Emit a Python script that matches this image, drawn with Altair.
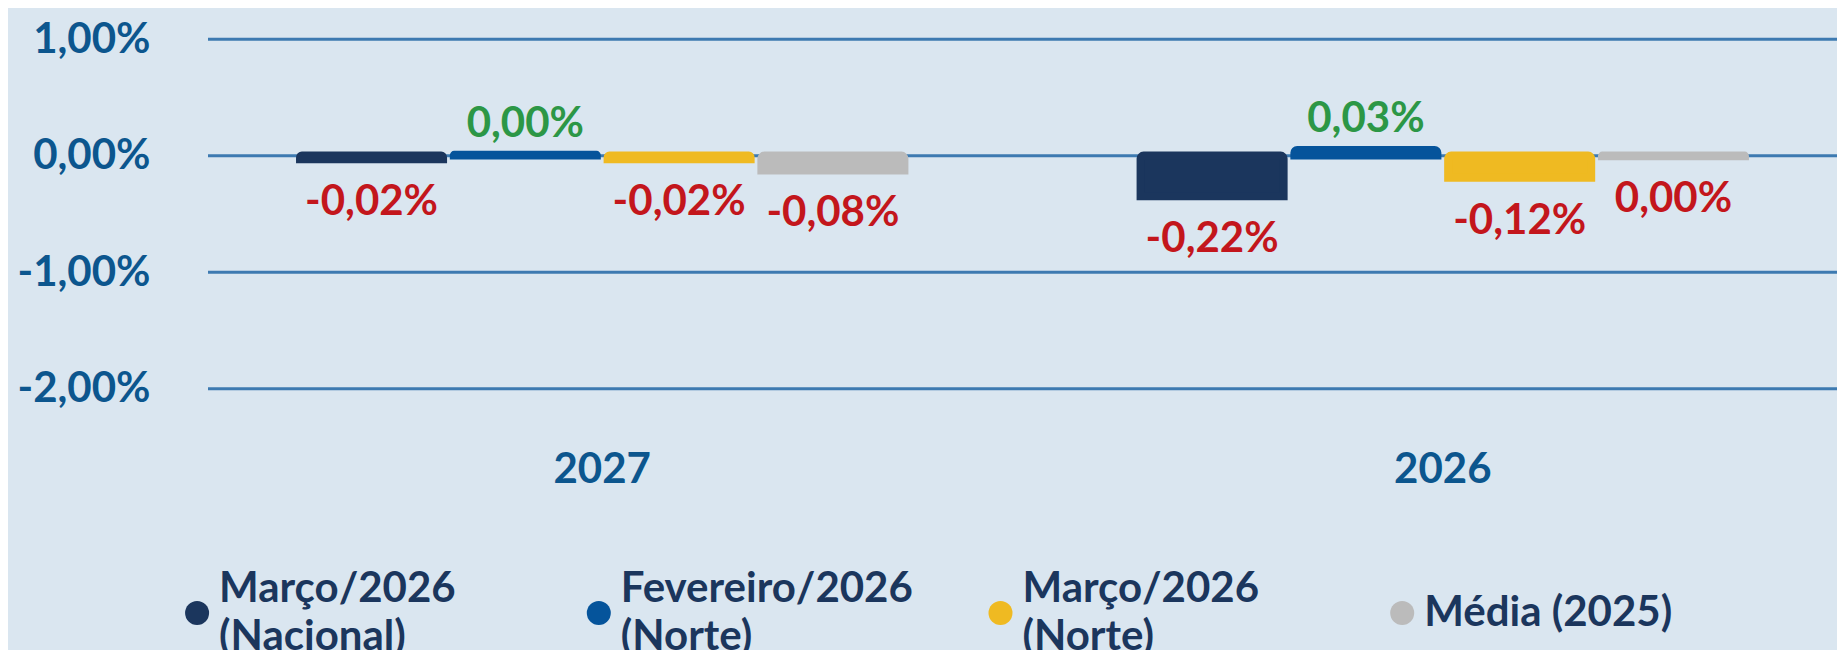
import altair as alt
import pandas as pd

# ---- data ----
years = ["2027", "2026"]
series = [
    "Março/2026\n(Nacional)",
    "Fevereiro/2026\n(Norte)",
    "Março/2026\n(Norte)",
    "Média (2025)",
]
series_colors = ["#1B365D", "#05549B", "#EFBA22", "#BBBBBB"]
values_2027 = [-0.02, 0.004, -0.02, -0.08]
values_2026 = [-0.22, 0.03, -0.12, -0.004]
grid_values = [1.0, 0.0, -1.0, -2.0]

rows = []
for ano, vals in zip(years, [values_2027, values_2026]):
    for s, v in zip(series, vals):
        rows.append({"ano": ano, "serie": s, "valor": v})
df = pd.DataFrame(rows)
grid_df = pd.DataFrame({"v": grid_values})
legend_df = pd.DataFrame({"serie": series})

FONT = "Lato"
FS = 42
AXIS_COLOR = "#0C568E"
LEGEND_TEXT = "#1B365D"
label_expr = "replace(replace(format(datum.valor, '.2f'), '\u2212', '-'), '.', ',') + '%'"
color_scale = alt.Scale(domain=series, range=series_colors)

# ---- gridlines + y axis labels ----
grid = alt.Chart(grid_df).mark_rule(color="#3D7AB1", strokeWidth=3).encode(
    y=alt.Y(
        "v:Q",
        scale=alt.Scale(domain=[-2.5, 1.25], nice=False),
        axis=alt.Axis(
            values=grid_values,
            grid=False,
            ticks=False,
            domain=False,
            title=None,
            labelExpr="(datum.value < 0 ? '-' : '') + replace(format(abs(datum.value), '.2f'), '.', ',') + '%'",
            labelFont=FONT,
            labelFontSize=FS,
            labelFontWeight="bold",
            labelColor=AXIS_COLOR,
            labelPadding=58,
        ),
    )
)

# ---- grouped bars + value labels ----
base = alt.Chart(df).encode(
    x=alt.X(
        "ano:N",
        sort=years,
        scale=alt.Scale(type="band", domain=years, paddingInner=0.27, paddingOuter=0.104),
        axis=alt.Axis(
            title=None,
            ticks=False,
            domain=False,
            grid=False,
            labelAngle=0,
            labelFont=FONT,
            labelFontSize=FS,
            labelFontWeight="bold",
            labelColor=AXIS_COLOR,
            labelPadding=2,
        ),
    ),
    xOffset=alt.XOffset(
        "serie:N",
        sort=series,
        scale=alt.Scale(type="band", domain=series, paddingInner=0.07, paddingOuter=0.03),
    ),
)

bar_y = alt.Y(
    "valor:Q", scale=alt.Scale(domain=[-1.575, 0.787], nice=False), axis=None
)

bars = base.mark_bar(strokeWidth=8, cornerRadiusEnd=3).encode(
    y=bar_y,
    color=alt.Color("serie:N", sort=series, scale=color_scale, legend=None),
    stroke=alt.Stroke("serie:N", sort=series, scale=color_scale, legend=None),
)

txt_pos = (
    base.transform_filter("datum.valor >= 0")
    .transform_calculate(rotulo=label_expr)
    .mark_text(dy=-31, color="#2C9746", font=FONT, fontSize=FS, fontWeight="bold")
    .encode(y=bar_y, text="rotulo:N")
)
txt_neg = (
    base.transform_filter("datum.valor < 0")
    .transform_calculate(rotulo=label_expr)
    .mark_text(dy=43, color="#C3161C", font=FONT, fontSize=FS, fontWeight="bold")
    .encode(y=bar_y, text="rotulo:N")
)

main = alt.layer(bars, txt_pos, txt_neg)

# ---- legend (dots + labels along a band scale of the series) ----
LEG_Y = 603
leg_base = alt.Chart(legend_df).encode(
    x=alt.X(
        "serie:N",
        sort=series,
        scale=alt.Scale(type="band", domain=series, paddingInner=0, paddingOuter=0.0276),
        axis=None,
        bandPosition=0,
    )
)
leg_dots = leg_base.mark_circle(size=576, opacity=1, xOffset=-22).encode(
    y=alt.value(LEG_Y),
    color=alt.Color("serie:N", sort=series, scale=color_scale, legend=None),
)
leg_txt_two = (
    leg_base.transform_filter("indexof(datum.serie, '\\n') >= 0")
    .mark_text(
        align="left",
        baseline="middle",
        lineBreak="\n",
        lineHeight=48,
        dy=-24,
        font=FONT,
        fontSize=FS,
        fontWeight="bold",
        color=LEGEND_TEXT,
    )
    .encode(y=alt.value(LEG_Y), text="serie:N")
)
leg_txt_one = (
    leg_base.transform_filter("indexof(datum.serie, '\\n') < 0")
    .mark_text(
        align="left",
        baseline="middle",
        font=FONT,
        fontSize=FS,
        fontWeight="bold",
        color=LEGEND_TEXT,
    )
    .encode(y=alt.value(LEG_Y), text="serie:N")
)
legend = alt.layer(leg_dots, leg_txt_two, leg_txt_one)

chart = (
    alt.layer(grid, main, legend)
    .resolve_scale(x="independent", y="independent")
    .properties(
        width=1629,
        height=437,
        background="#DAE6F0",
        padding={"left": 200, "top": 2, "right": 0, "bottom": 203},
        autosize=alt.AutoSizeParams(type="none"),
    )
    .configure_view(stroke=None)
)

chart.save("out.html", embed_options={"renderer": "svg", "actions": False})
